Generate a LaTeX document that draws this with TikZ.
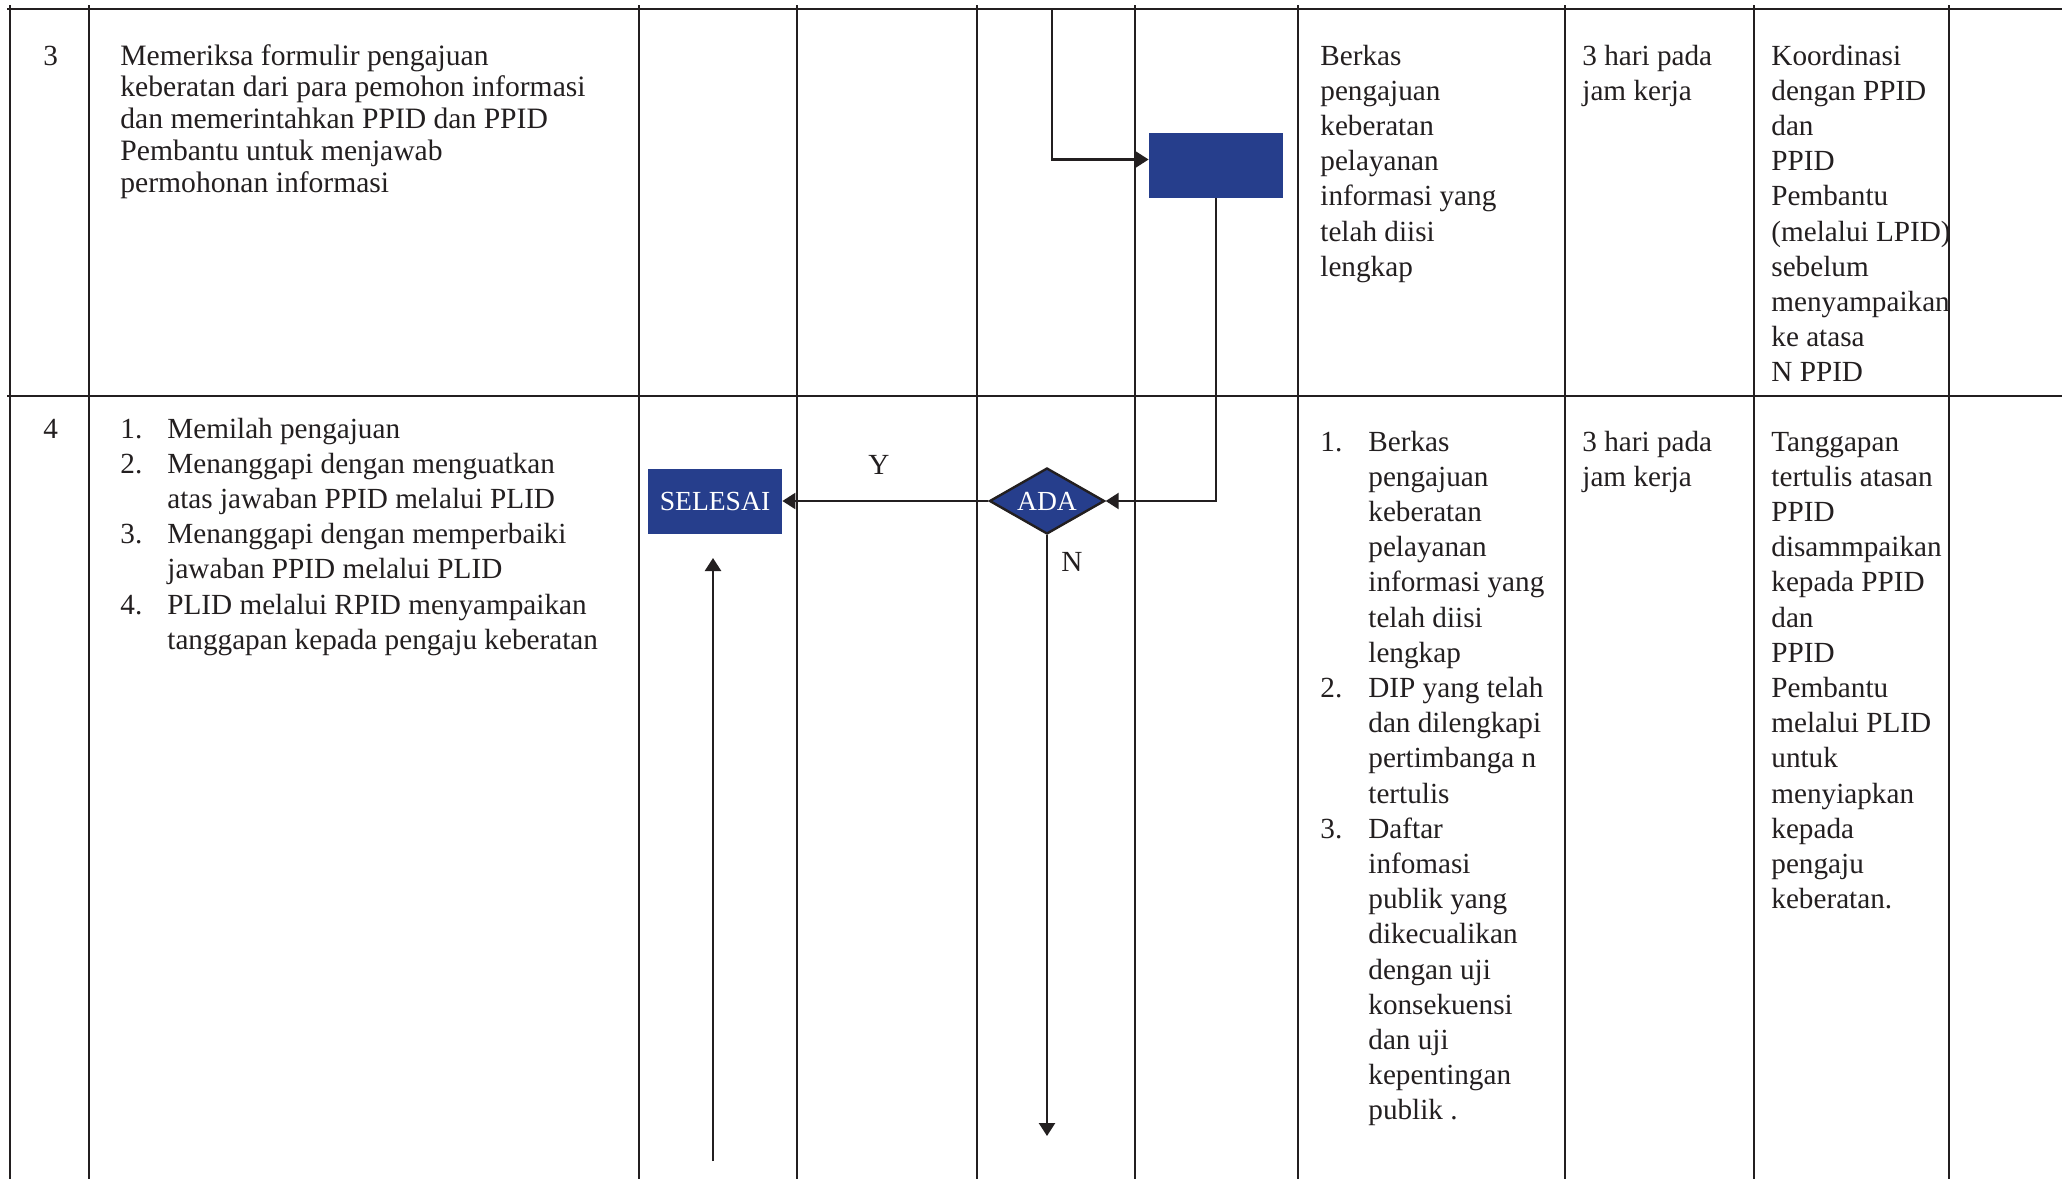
\documentclass[tikz,border=0pt]{standalone}
\usepackage{fontspec}
\setmainfont{Liberation Serif}
\usetikzlibrary{shapes.geometric,arrows.meta}
\definecolor{navy}{RGB}{38,62,140}
\definecolor{ink}{RGB}{35,31,32}
\begin{document}
\begin{tikzpicture}[x=0.5pt,y=-0.5pt,
  gridline/.style={line width=1.25pt,draw=ink},
  link/.style={line width=1.2pt,draw=ink},
  arrowlink/.style={link,-{Triangle[length=6.5pt,width=8pt]}},
  cell/.style={anchor=base west,inner sep=0pt,text=ink,font=\fontsize{14.6}{17.6}\selectfont},
  bluebox/.style={rectangle,fill=navy,inner sep=0pt,minimum width=67pt,minimum height=32.5pt,text=white,font=\fontsize{13.8}{16}\selectfont},
  decision/.style={diamond,aspect=1.75,fill=navy,draw=ink,line width=1.2pt,inner sep=0pt,minimum width=57.5pt,minimum height=33pt,text=white,font=\fontsize{13.8}{16}\selectfont},
  lbl/.style={inner sep=0pt,text=ink,font=\fontsize{14.6}{17.6}\selectfont}]
\useasboundingbox (0,0) rectangle (2062,1179);
\fill[white] (0,0) rectangle (2062,1179);

% ---- row 3 texts
\node[cell] (num3) at (43,65) {3};
\node[cell,font=\fontsize{14.8}{15.95}\selectfont] (act3) at (120,65) {\begin{tabular}[t]{@{}l@{}}Memeriksa formulir pengajuan\\keberatan dari para pemohon informasi\\dan memerintahkan PPID dan PPID\\Pembantu untuk menjawab\\permohonan informasi\end{tabular}};
\node[cell] (out3) at (1320,65) {\begin{tabular}[t]{@{}l@{}}Berkas\\pengajuan\\keberatan\\pelayanan\\informasi yang\\telah diisi\\lengkap\end{tabular}};
\node[cell] (time3) at (1582,65) {\begin{tabular}[t]{@{}l@{}}3 hari pada\\jam kerja\end{tabular}};
\node[cell] (note3) at (1771,65) {\begin{tabular}[t]{@{}l@{}}Koordinasi\\dengan PPID\\dan\\PPID\\Pembantu\\(melalui LPID)\\sebelum\\menyampaikan\\ke atasa\\N PPID\end{tabular}};

% ---- row 4 texts
\node[cell] (num4) at (43,438) {4};
\node[cell] (act4) at (120,438) {\begin{tabular}[t]{@{}p{23.5pt}@{}l@{}}1. & Memilah pengajuan\\
2. & Menanggapi dengan menguatkan\\
 & atas jawaban PPID melalui PLID\\
3. & Menanggapi dengan memperbaiki\\
 & jawaban PPID melalui PLID\\
4. & PLID melalui RPID menyampaikan\\
 & tanggapan kepada pengaju keberatan\end{tabular}};
\node[cell] (out4) at (1320,451) {\begin{tabular}[t]{@{}p{24pt}@{}l@{}}1. & Berkas\\
 & pengajuan\\ & keberatan\\ & pelayanan\\ & informasi yang\\ & telah diisi\\ & lengkap\\
2. & DIP yang telah\\ & dan dilengkapi\\ & pertimbanga n\\ & tertulis\\
3. & Daftar\\ & infomasi\\ & publik yang\\ & dikecualikan\\ & dengan uji\\ & konsekuensi\\ & dan uji\\ & kepentingan\\ & publik .\end{tabular}};
\node[cell] (time4) at (1582,451) {\begin{tabular}[t]{@{}l@{}}3 hari pada\\jam kerja\end{tabular}};
\node[cell] (note4) at (1771,451) {\begin{tabular}[t]{@{}l@{}}Tanggapan\\tertulis atasan\\PPID\\disammpaikan\\kepada PPID\\dan\\PPID\\Pembantu\\melalui PLID\\untuk\\menyiapkan\\kepada\\pengaju\\keberatan.\end{tabular}};

% ---- table grid
\draw[gridline] (7,9) -- (2062,9);
\draw[gridline] (7,396) -- (2062,396);
\foreach \x in {10,89,639,797,977,1135,1298,1565,1754,1949}
  \draw[gridline] (\x,5) -- (\x,1179);

% ---- flow shapes
\node[bluebox] (rev) at (1216,165.5) {};
\node[decision] (ada) at (1047,501) {ADA};
\node[bluebox] (done) at (715,501) {SELESAI};
\coordinate (fromabove) at (1052,9);
\coordinate (downend) at (1047,1136);
\coordinate (upstart) at (713,1161);
\coordinate (upend) at (713,558);

\draw[arrowlink] (fromabove) |- ([yshift=3pt]rev.west);
\draw[arrowlink] (rev.south) |- (ada.east);
\draw[arrowlink] (ada.west) -- (done.east);
\draw[arrowlink] (ada.south) -- (downend);
\draw[arrowlink] (upstart) -- (upend);
\node[lbl] (ylab) at (879,465) {Y};
\node[lbl] (nlab) at (1072,562) {N};
\end{tikzpicture}
\end{document}
